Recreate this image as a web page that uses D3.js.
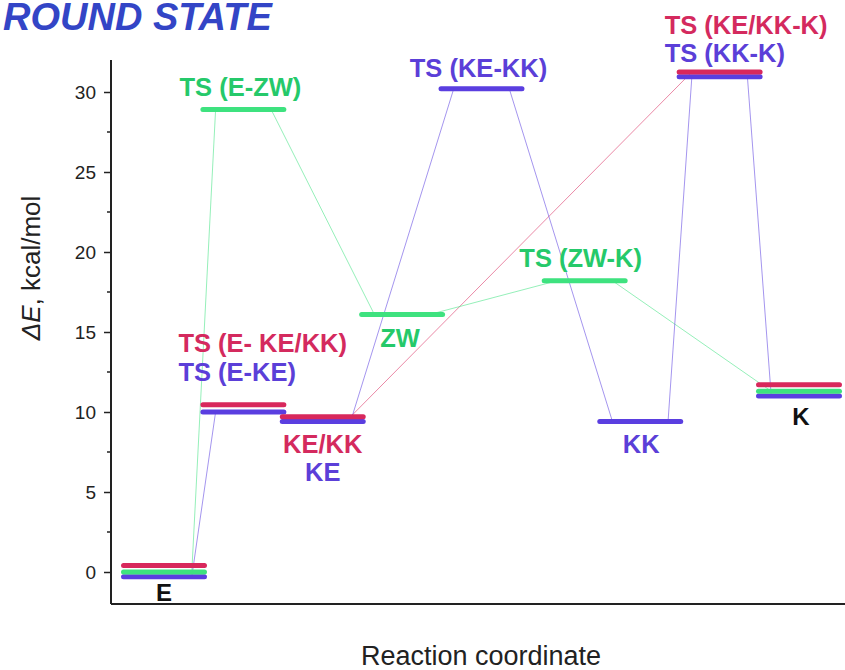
<!DOCTYPE html>
<html>
<head>
<meta charset="utf-8">
<script src="https://cdn.jsdelivr.net/npm/d3@7/dist/d3.min.js"></script>
<style>
  body { margin: 0; background: #fff; }
  text { font-family: "Liberation Sans", Arial, sans-serif; }
</style>
</head>
<body>
<script>
// reaction coordinate slot of each level and its energy (kcal/mol), one list per pathway
var redX = [0, 1, 2, 7, 8];
var redE = [0.4, 10.45, 9.7, 31.25, 11.7];
var greenX = [0, 1, 3, 5.3, 8];
var greenE = [0.0, 28.9, 16.1, 18.2, 11.3];
var blueX = [0, 1, 2, 4, 6, 7, 8];
var blueE = [-0.3, 10.0, 9.4, 30.2, 9.4, 30.95, 11.0];

// which levels are joined by a thin connector (index pairs into each list)
var redLinks = [[2, 3]];
var greenLinks = [[0, 1], [1, 2], [2, 3], [3, 4]];
var blueLinks = [[0, 1], [2, 3], [3, 4], [4, 5], [5, 6]];

var yTicks = [0, 5, 10, 15, 20, 25, 30];
var yMinor = [2.5, 7.5, 12.5, 17.5, 22.5, 27.5];

var colors = { red: '#d8285c', green: '#3ee27f', blue: '#5a3ee0', black: '#111' };
var textColors = { red: '#d42a5e', green: '#25c96a', blue: '#5b3fd8', black: '#111' };

var width = 845, height = 670;

var svg = d3.select('body').append('svg')
  .attr('width', width)
  .attr('height', height);

var x = d3.scaleLinear().domain([0, 8]).range([164, 799]);
var y = d3.scaleLinear().domain([-2, 32]).range([604, 60]);
var axisLeft = 111, axisRight = 845;

var barHalf = 0.51, inset = 0.35;

var series = [
  { key: 'red', xs: redX, es: redE, links: redLinks },
  { key: 'green', xs: greenX, es: greenE, links: greenLinks },
  { key: 'blue', xs: blueX, es: blueE, links: blueLinks }
];

// title, only the part visible in the source slide
svg.append('text')
  .attr('x', 3).attr('y', 30)
  .style('font-size', '38px')
  .style('font-weight', 'bold')
  .style('font-style', 'italic')
  .style('fill', '#3345c6')
  .text('ROUND STATE');

// y axis
var yAxis = d3.axisLeft(y).tickValues(yTicks).tickSize(7).tickPadding(8);
var gy = svg.append('g').attr('transform', 'translate(' + axisLeft + ',0)').call(yAxis);
gy.select('.domain').remove();
gy.selectAll('.tick line').attr('stroke', '#222').attr('stroke-width', 1.5);
gy.selectAll('.tick text').style('font-size', '19px').style('fill', '#222')
  .style('font-family', '"Liberation Sans", Arial, sans-serif');

svg.append('g').selectAll('line')
  .data(yMinor)
  .enter()
  .append('line')
  .attr('x1', axisLeft - 4).attr('x2', axisLeft)
  .attr('y1', function(d) { return y(d); })
  .attr('y2', function(d) { return y(d); })
  .attr('stroke', '#222').attr('stroke-width', 1.5);

svg.append('line')
  .attr('x1', axisLeft).attr('x2', axisLeft)
  .attr('y1', y(32)).attr('y2', y(-2))
  .attr('stroke', '#222').attr('stroke-width', 2);
svg.append('line')
  .attr('x1', axisLeft).attr('x2', axisRight)
  .attr('y1', y(-2)).attr('y2', y(-2))
  .attr('stroke', '#222').attr('stroke-width', 2);

// axis titles
var yl = svg.append('text')
  .attr('transform', 'translate(40,268) rotate(-90)')
  .attr('text-anchor', 'middle')
  .style('font-size', '26px')
  .style('fill', '#222');
yl.append('tspan').style('font-style', 'italic').text('ΔE');
yl.append('tspan').text(', kcal/mol');

svg.append('text')
  .attr('x', 481).attr('y', 665)
  .attr('text-anchor', 'middle')
  .style('font-size', '27px')
  .style('fill', '#222')
  .text('Reaction coordinate');

// connectors
series.forEach(function(s) {
  svg.append('g').selectAll('line')
    .data(s.links)
    .enter()
    .append('line')
    .attr('x1', function(d) { return x(s.xs[d[0]] + inset); })
    .attr('y1', function(d) { return y(s.es[d[0]]); })
    .attr('x2', function(d) { return x(s.xs[d[1]] - inset); })
    .attr('y2', function(d) { return y(s.es[d[1]]); })
    .attr('stroke', colors[s.key])
    .attr('stroke-opacity', 0.55)
    .attr('stroke-width', 1);
});

// energy levels (draw blue first so red sits on top)
[series[2], series[1], series[0]].forEach(function(s) {
  svg.append('g').selectAll('line')
    .data(d3.range(s.xs.length))
    .enter()
    .append('line')
    .attr('x1', function(i) { return x(s.xs[i] - barHalf); })
    .attr('x2', function(i) { return x(s.xs[i] + barHalf); })
    .attr('y1', function(i) { return y(s.es[i]); })
    .attr('y2', function(i) { return y(s.es[i]); })
    .attr('stroke', colors[s.key])
    .attr('stroke-width', 5)
    .attr('stroke-linecap', 'round');
});

// labels: text, colour, series + level they hang on, pixel offset, anchor
var labels = [
  ['TS (E-ZW)', 'green', greenX[1], greenE[1], -3, -14, 'middle'],
  ['TS (KE-KK)', 'blue', blueX[3], blueE[3], -3, -12, 'middle'],
  ['TS (KE/KK-K)', 'red', redX[3], redE[3], -55, -38, 'start'],
  ['TS (KK-K)', 'blue', blueX[5], blueE[5], -55, -15, 'start'],
  ['TS (E- KE/KK)', 'red', redX[1], redE[1], -65, -53, 'start'],
  ['TS (E-KE)', 'blue', blueX[1], blueE[1], -65, -31, 'start'],
  ['KE/KK', 'red', redX[2], redE[2], 0, 36, 'middle'],
  ['KE', 'blue', blueX[2], blueE[2], 0, 59, 'middle'],
  ['ZW', 'green', greenX[2], greenE[2], -2, 33, 'middle'],
  ['TS (ZW-K)', 'green', greenX[3], greenE[3], -4, -14, 'middle'],
  ['KK', 'blue', blueX[4], blueE[4], 1, 31, 'middle'],
  ['K', 'black', blueX[6], blueE[6], 2, 29, 'middle'],
  ['E', 'black', blueX[0], blueE[0], 0, 24, 'middle']
];

svg.append('g').selectAll('text')
  .data(labels)
  .enter()
  .append('text')
  .attr('x', function(d) { return x(d[2]) + d[4]; })
  .attr('y', function(d) { return y(d[3]) + d[5]; })
  .attr('text-anchor', function(d) { return d[6]; })
  .style('font-size', function(d) { return d[1] == 'black' ? '24px' : '25.5px'; })
  .style('font-weight', 'bold')
  .style('fill', function(d) { return textColors[d[1]]; })
  .text(function(d) { return d[0]; });
</script>
</body>
</html>
